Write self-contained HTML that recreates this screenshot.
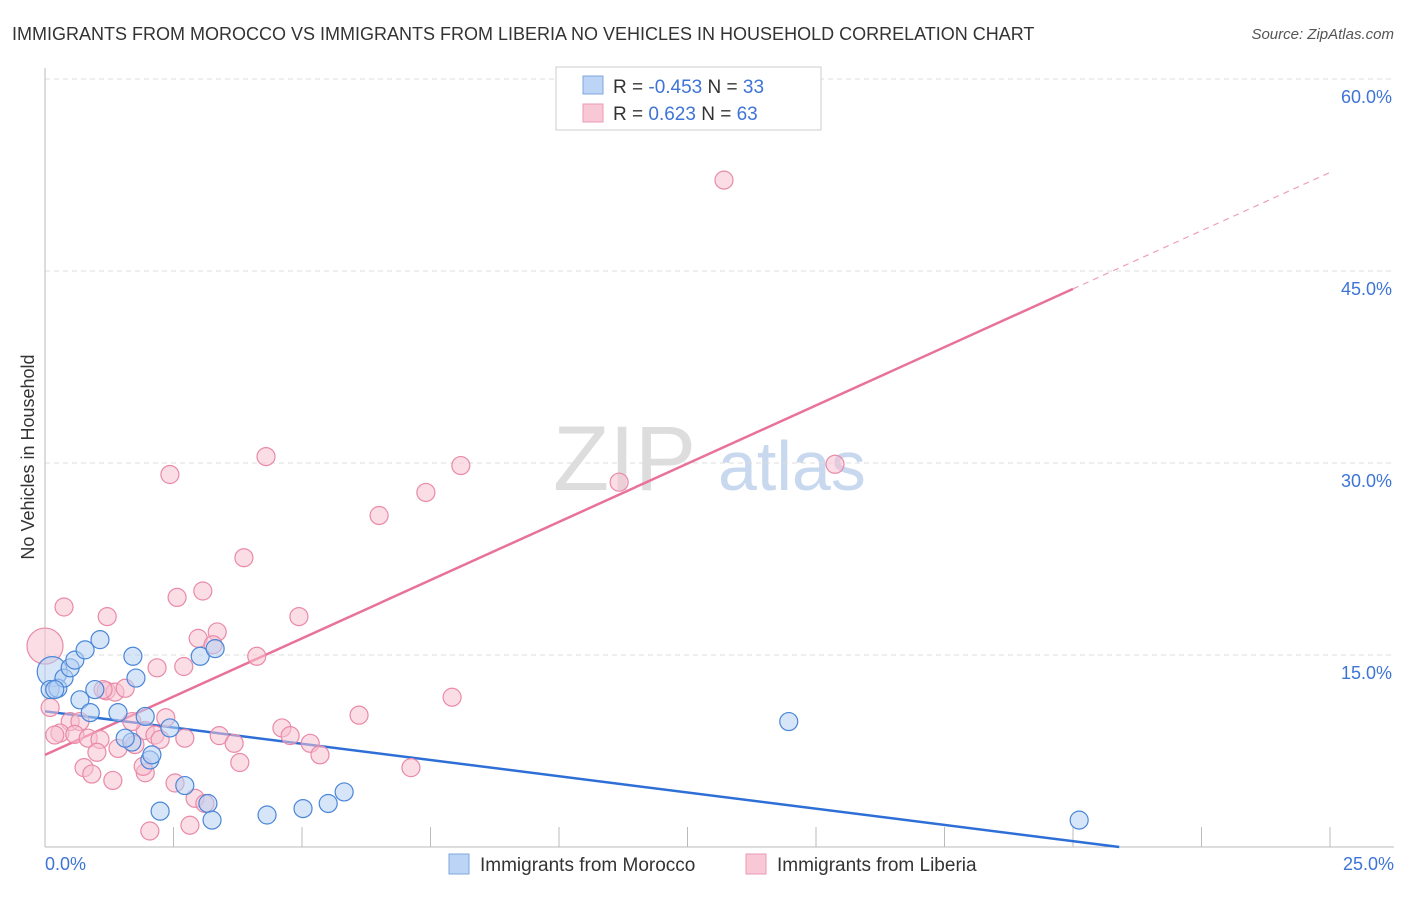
<!DOCTYPE html>
<html><head><meta charset="utf-8"><style>
body{margin:0;background:#fff;font-family:"Liberation Sans",sans-serif}
svg text{font-family:"Liberation Sans",sans-serif}
</style></head><body>
<svg id="c" width="1406" height="892">
<text x="12" y="40" font-size="18" fill="#333">IMMIGRANTS FROM MOROCCO VS IMMIGRANTS FROM LIBERIA NO VEHICLES IN HOUSEHOLD CORRELATION CHART</text>
<text x="1394" y="39" font-size="15" fill="#555" font-style="italic" text-anchor="end">Source: ZipAtlas.com</text>
<text x="34" y="457" font-size="18" fill="#333" text-anchor="middle" transform="rotate(-90 34 457)">No Vehicles in Household</text>
<g><text x="553" y="490" font-size="92" fill="#ddd" font-family="Liberation Serif">ZIP</text><text x="718" y="490" font-size="70" fill="#c8d8ef">atlas</text></g>
<g id="grid"></g><g id="lines"></g><g id="pts"></g>
<g>
<rect x="556" y="67" width="265" height="63" fill="#fff" stroke="#ccc"/>
<rect x="583" y="76" width="20" height="18" fill="#bcd4f5" stroke="#7fa6de"/>
<rect x="583" y="104" width="20" height="18" fill="#f9c8d6" stroke="#ec9ab3"/>
<text x="613" y="93" font-size="19" fill="#333">R = <tspan fill="#3d74d6">-0.453</tspan>   N = <tspan fill="#3d74d6">33</tspan></text>
<text x="613" y="120" font-size="19" fill="#333">R =   <tspan fill="#3d74d6">0.623</tspan>   N = <tspan fill="#3d74d6">63</tspan></text>
</g>
<g>
<rect x="449" y="854" width="20" height="20" fill="#bcd4f5" stroke="#7fa6de"/>
<text x="480" y="871" font-size="19" fill="#333">Immigrants from Morocco</text>
<rect x="746" y="854" width="20" height="20" fill="#f9c8d6" stroke="#ec9ab3"/>
<text x="777" y="871" font-size="19" fill="#333">Immigrants from Liberia</text>
</g>
</svg>
<script>
const yTicks=[15,30,45,60];
const yTickLabels=["15.0%","30.0%","45.0%","60.0%"];
const xTickLabels=["0.0%","25.0%"];
const blueX=[0.14,0.10,0.25,0.37,0.49,0.58,0.78,1.07,0.68,0.88,0.97,1.71,1.77,1.95,2.43,1.42,1.69,2.04,2.08,1.56,3.02,3.31,2.72,2.24,3.17,3.25,4.32,5.02,5.51,5.82,14.47,20.12,0.19];
const blueY=[13.7,12.3,12.4,13.2,14.0,14.6,15.4,16.2,11.5,10.5,12.3,14.9,13.2,10.2,9.3,10.5,8.2,6.8,7.2,8.5,14.9,15.5,4.8,2.8,3.4,2.1,2.5,3.0,3.4,4.3,9.8,2.1,12.3];
const pinkX=[0.0,0.37,1.21,2.43,4.30,2.57,3.07,3.87,6.50,7.41,8.09,11.17,15.37,13.21,4.94,2.98,3.35,3.27,2.18,2.70,4.12,1.19,1.36,1.56,1.13,0.10,0.49,0.68,0.29,0.19,0.58,0.84,1.07,1.42,1.75,1.95,2.35,2.14,2.24,1.01,0.76,0.91,1.95,1.91,1.32,2.72,3.39,3.68,3.79,4.61,4.77,5.16,5.35,6.11,7.12,7.92,2.53,2.92,3.11,2.82,2.04,1.69];
const pinkY=[15.7,18.75,18.0,29.1,30.5,19.5,20.0,22.6,25.9,27.7,29.8,28.5,29.9,52.1,18.0,16.3,16.8,15.8,14.0,14.1,14.9,12.2,12.1,12.4,12.3,10.9,9.8,9.8,8.9,8.75,8.8,8.5,8.4,7.7,8.0,9.1,10.1,8.75,8.4,7.4,6.2,5.7,5.8,6.3,5.2,8.5,8.7,8.1,6.6,9.3,8.7,8.1,7.2,10.3,6.2,11.7,5.0,3.8,3.4,1.7,1.25,9.8];
const blueLine=[[0,10.6],[20.9,0]];
const pinkLine=[[0,7.2],[20,43.6]];
const pinkDash=[[20,43.6],[25,52.7]];
const X=v=>45+v*51.4, Y=v=>847-v*12.8;
const NS="http://www.w3.org/2000/svg";
function mk(t,a,p){const e=document.createElementNS(NS,t);for(const k in a)e.setAttribute(k,a[k]);p.appendChild(e);return e;}
const g=document.getElementById('grid');
yTicks.forEach((t,i)=>{const l=mk('line',{x1:45,x2:1394,y1:Y(t),y2:Y(t),stroke:'#ddd','stroke-dasharray':'5 4'},g);

const tx=mk('text',{x:1392,y:Y(t)+24,'font-size':18,fill:'#3d74d6','text-anchor':'end'},g);tx.textContent=yTickLabels[i];
});
const ax=mk('line',{x1:45,x2:45,y1:68,y2:847,stroke:'#bbb'},g);
const bx=mk('line',{x1:45,x2:1394,y1:847,y2:847,stroke:'#bbb'},g);
for(let i=1;i<=10;i++){const t=mk('line',{x1:X(i*2.5),x2:X(i*2.5),y1:827,y2:847,stroke:'#bbb'},g);}
[[0,'start',45],[25,'end',1394]].forEach((d,i)=>{const tx=mk('text',{x:d[2],y:870,'font-size':18,fill:'#3d74d6','text-anchor':d[1]},g);tx.textContent=xTickLabels[i];
});
const L=document.getElementById('lines');
function ln(p,c,w,da,name){const e=mk('line',{x1:X(p[0][0]),y1:Y(p[0][1]),x2:X(p[1][0]),y2:Y(p[1][1]),stroke:c,'stroke-width':w},L);if(da)e.setAttribute('stroke-dasharray',da);
}
const P=document.getElementById('pts');
function pts(xs,ys,f,s,name,big){xs.forEach((x,i)=>{const c=mk('circle',{cx:X(x),cy:Y(ys[i]),r:(i===0&&big)?big:9,fill:f,'fill-opacity':0.55,stroke:s,'stroke-width':1.2},P);
});}
pts(pinkX,pinkY,'#f7c1d1','#e98aa8','liberia-point',18);
pts(blueX,blueY,'#b5cff3','#4a86d8','morocco-point',15);
ln(blueLine,'#2d6fd6',2.5,null,'morocco-trend-line');
ln(pinkLine,'#e8729a',2.5,null,'liberia-trend-line');
ln(pinkDash,'#ef9fb8',1.2,'6 5','liberia-trend-extension');
</script>
</body></html>
